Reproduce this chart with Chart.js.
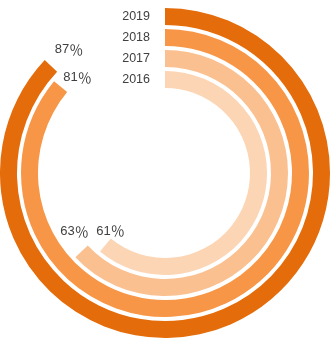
<!DOCTYPE html>
<html lang="zh">
  <head>
    <meta charset="UTF-8" />
    <title>Radial bars</title>
    <style>
      html, body { margin: 0; padding: 0; background: #fff; }
      .wrap { width: 331px; height: 339px; position: relative; }
    </style>
  </head>
  <body>
    <div class="wrap"><canvas id="ringChart"></canvas></div>

    <script src="https://cdn.jsdelivr.net/npm/chart.js"></script>
    <script>
      // outer ring first
      const years = ["2019", "2018", "2017", "2016"];
      // arc lengths as drawn in the picture (percent of a full turn)
      const rates = [87, 86, 63, 61];
      // labels as printed (the 2018 label doesn't match its arc in the original)
      const rateLabels = ["87", "81", "63", "61"];
      const ringColors = ["#E46C0A", "#F79646", "#FAC090", "#FCD5B5"];
      // where each % label sits, relative to the end of its arc
      const labelOffsets = [[18, -16], [17, -9], [-7, -20], [5, -14]];

      const datasets = [];
      years.forEach((y, i) => {
        if (i > 0) {
          // thin transparent ring = white gap between bars
          datasets.push({ data: [100], backgroundColor: ["rgba(0,0,0,0)"], weight: 4, isGap: true });
        }
        datasets.push({
          label: y,
          data: [rates[i], 100 - rates[i]],
          backgroundColor: [ringColors[i], "rgba(0,0,0,0)"],
          weight: 17,
          yearIdx: i,
        });
      });

      const ringLabels = {
        id: "ringLabels",
        afterDatasetsDraw(chart) {
          const ctx = chart.ctx;
          ctx.save();
          chart.data.datasets.forEach((ds, di) => {
            if (ds.isGap) return;
            const arc = chart.getDatasetMeta(di).data[0];
            const cx = arc.x, cy = arc.y;
            const midR = (arc.innerRadius + arc.outerRadius) / 2;
            const i = ds.yearIdx;

            // year label at the start of the ring
            ctx.font = "12.5px 'Liberation Sans', Arial, sans-serif";
            ctx.fillStyle = "#404040";
            ctx.textAlign = "right";
            ctx.textBaseline = "middle";
            ctx.fillText(years[i], cx - 15, cy - midR);

            // percentage near the end of the arc
            const a = arc.endAngle;
            const px = cx + midR * Math.cos(a) + labelOffsets[i][0];
            const py = cy + midR * Math.sin(a) + labelOffsets[i][1];
            const numFont = "13px 'Liberation Sans', Arial, sans-serif";
            const pctFont = "14px 'Noto Sans CJK SC', sans-serif";
            ctx.font = numFont;
            const wNum = ctx.measureText(rateLabels[i]).width;
            ctx.font = pctFont;
            const wPct = ctx.measureText("％").width;
            const x0 = px - (wNum + wPct) / 2;
            ctx.textAlign = "left";
            ctx.font = numFont;
            ctx.fillText(rateLabels[i], x0, py);
            ctx.font = pctFont;
            ctx.fillText("％", x0 + wNum, py);
          });
          ctx.restore();
        },
      };

      new Chart(document.getElementById("ringChart"), {
        type: "doughnut",
        data: { labels: ["value", "rest"], datasets: datasets },
        options: {
          responsive: true,
          maintainAspectRatio: false,
          animation: false,
          cutout: 85,
          borderWidth: 0,
          layout: { padding: { top: 8, bottom: 1, left: 0, right: 1 } },
          plugins: {
            legend: { display: false },
            tooltip: { enabled: false },
          },
        },
        plugins: [ringLabels],
      });
    </script>
  </body>
</html>
